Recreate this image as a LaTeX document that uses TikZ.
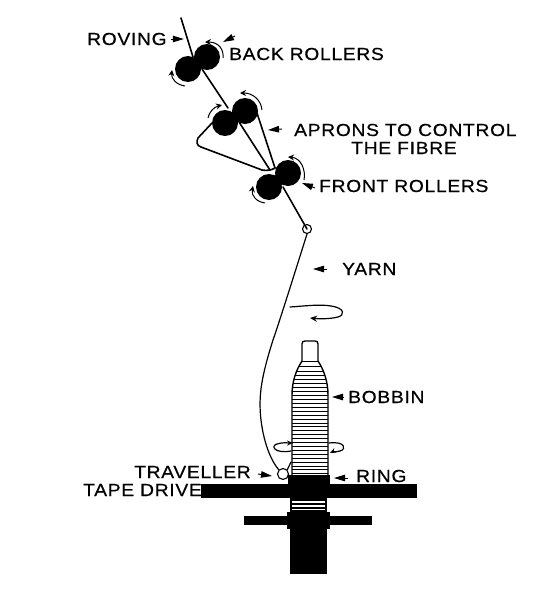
\documentclass[tikz,border=0pt]{standalone}
\usepackage{fontspec}
\setmainfont[FakeStretch=1.1,LetterSpace=4,FakeBold=0.5]{Liberation Sans}
\usetikzlibrary{arrows.meta}
\tikzset{
 lab/.style={font=\fontsize{17.5}{19}\selectfont,inner sep=0pt,text=black},
 roller/.style={circle,fill=black,inner sep=0pt,minimum size=26pt},
 fibre/.style={line width=1.6pt,line cap=round,line join=round},
 thin line/.style={line width=1.2pt,line cap=round},
 rot/.style={line width=1pt,-{Stealth[length=6pt,width=6pt]}},
 leader/.style={line width=1pt,-{Stealth[length=11pt,width=6.5pt,inset=0pt]}},
 solid part/.style={fill=black,draw=none},
 stripe/.style={line width=1pt}
}
\begin{document}
\begin{tikzpicture}[x=1pt,y=-1pt]
\useasboundingbox (0,0) rectangle (536,600);
% rollers
\node[roller] (b1) at (207,57) {};
\node[roller] (b2) at (188,69) {};
\node[roller] (a1) at (245,111) {};
\node[roller] (a2) at (225,123) {};
\node[roller] (f1) at (288,173) {};
\node[roller] (f2) at (269,187) {};
\fill (197,63) circle (6pt) (235,117) circle (6pt) (278.5,180) circle (6pt);
% fibre path
\coordinate (rtop) at (181,18);
\coordinate (eyelet) at (307,229);
\draw[fibre] (rtop) -- (193,57);
\draw[fibre] (202,69) -- (228,108);
\draw[fibre] (257,113) -- (275,168);
\draw[fibre] (239,122) -- (270,170);
\draw[fibre] (212,123) -- (198,138) .. controls (196,142) and (197,146) .. (201,147) -- (262,170) .. controls (267,171) and (272,170) .. (275,168);
\draw[fibre] (283,187) -- (eyelet);
\node[circle,draw,line width=1.1pt,inner sep=0pt,minimum size=9pt] (eye) at (eyelet) {};
% bobbin
\draw[line width=1.4pt] (302,361) -- (302,344) .. controls (302,342) and (303,341) .. (305,341) -- (315,341) .. controls (317,341) and (318,342) .. (318,344) -- (318,361);
\begin{scope}
\clip (302,361) -- (318,361) .. controls (324,370) and (328,382) .. (328,395) -- (328,476) -- (292,476) -- (292,395) .. controls (292,382) and (296,370) .. (302,361) -- cycle;
\foreach \y in {361.5,366.5,371.5,375.5,379.5,383.5,387.5,391.5,395.5,399.5,403.5,407.5,411.5,415.5,419.5,423.5,426.5,430.5,434.5,438.5,442.5,446.5,450.5,454.5,458.5,462.5,466.5,469.5,473.5}
  \draw[stripe] (285,\y) -- (335,\y);
\end{scope}
\draw[line width=1.4pt] (302,361) .. controls (296,370) and (292,382) .. (292,395) -- (292,476);
\draw[line width=1.4pt] (318,361) .. controls (324,370) and (328,382) .. (328,395) -- (328,476);
% lower parts
\fill[solid part] (288,475) rectangle (330,484);
\fill[solid part] (201,484) rectangle (417,498);
\fill[solid part] (290,498) rectangle (327,512);
\foreach \y in {502,506,509.5} \draw[white,line width=1.3pt] (292,\y) -- (325,\y);
\fill[solid part] (287,512) rectangle (330,529);
\fill[solid part] (244,516) rectangle (372,525);
\fill[solid part] (290,529) rectangle (327,574);
% yarn
\node[circle,draw,fill=white,line width=1.1pt,inner sep=0pt,minimum size=11pt] (trav) at (283,474) {};
\draw[thin line] (eye.south) .. controls (295,272) and (280,320) .. (273,340) .. controls (262,375) and (258,395) .. (261,420) .. controls (264,445) and (272,462) .. (trav.north west);
\draw[thin line] (trav.north east) -- (291,462);
% rotation arrows
\draw[rot] (223,58) .. controls (224,50) and (219,42) .. (205,42);
\draw[rot] (185,86) .. controls (177,85) and (171,79) .. (172,70);
\draw[rot] (262,110) .. controls (261,100) and (253,93) .. (240,93);
\draw[rot] (208,118) .. controls (209,112) and (214,107) .. (222,105);
\draw[rot] (304,180) .. controls (306,170) and (301,158) .. (288,157);
\draw[rot] (265,203) .. controls (257,202) and (251,196) .. (253,186);
% twist arrows
\draw[thin line,-{Stealth[length=7pt,width=6pt]}] (290,307) .. controls (305,306) and (320,304) .. (331,306) .. controls (345,308) and (345,315) .. (338,317) .. controls (330,319) and (320,319) .. (310,318);
\draw[thin line,-{Stealth[length=6pt,width=5pt]}] (291,451) .. controls (275,454) and (270,446) .. (277,444) .. controls (283,442) and (288,443) .. (293,443);
\draw[thin line,-{Stealth[length=6pt,width=5pt]}] (329,443) .. controls (345,441) and (347,449) .. (340,451) .. controls (336,452) and (332,452) .. (330,453);
% labels
\node[lab,anchor=west] (troving) at (87,39) {ROVING};
\node[lab,anchor=west] (tback) at (229,54) {BACK ROLLERS};
\node[lab,anchor=west] (taprons) at (294,130) {APRONS TO CONTROL};
\node[lab] (tfibre) at (404,148) {THE FIBRE};
\node[lab,anchor=west] (tfront) at (319,186) {FRONT ROLLERS};
\node[lab,anchor=west] (tyarn) at (342,269) {YARN};
\node[lab,anchor=west] (tbobbin) at (348,397) {BOBBIN};
\node[lab,anchor=west] (tring) at (356,476) {RING};
\node[lab,anchor=west] (ttrav) at (134,472) {TRAVELLER};
\node[lab,anchor=east] (ttape) at (202,490) {TAPE DRIVE};
% leaders
\draw[leader] (troving.east)++(4,0) -- ++(13,0);
\draw[leader] (235,36) -- (223,42);
\draw[leader] (282,129) -- (268,130);
\draw[leader] (315,188) -- (302,183);
\draw[leader] (327,269) -- (313,269);
\draw[leader] (344,397) -- (332,397);
\draw[leader] (348,478) -- (334,478);
\draw[leader] (258,474) -- (272,476);
\end{tikzpicture}
\end{document}
